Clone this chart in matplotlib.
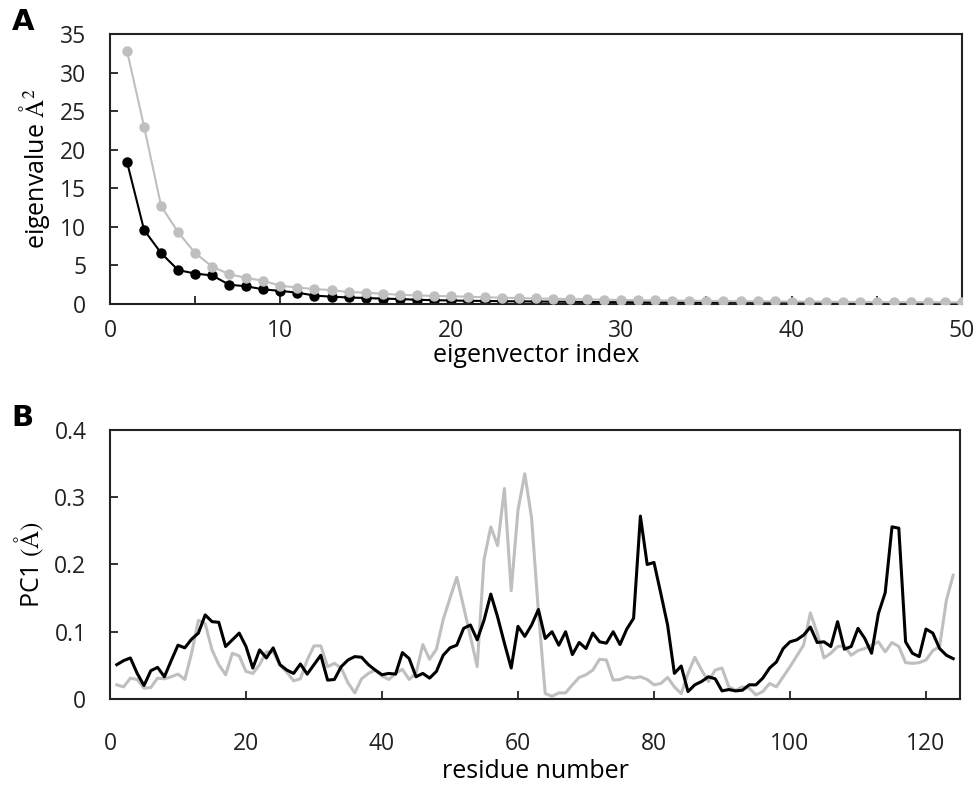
import numpy as np
import matplotlib
matplotlib.use("Agg")
import matplotlib.pyplot as plt
from matplotlib.ticker import MultipleLocator

plt.rcParams['font.family'] = ['Open Sans', 'DejaVu Sans']
plt.rcParams['mathtext.fontset'] = 'stix'

# ---------------- Panel A data ----------------
eig_index = list(range(1, 51))
eig_black = [18.4, 9.6, 6.6, 4.4, 3.95, 3.7, 2.5, 2.3, 1.9, 1.7,
             1.47, 1.1, 0.95, 0.85, 0.78, 0.7, 0.65, 0.55, 0.5, 0.46,
             0.42, 0.4, 0.37, 0.35, 0.33, 0.31, 0.29, 0.27, 0.25, 0.24,
             0.22, 0.21, 0.2, 0.19, 0.18, 0.17, 0.16, 0.15, 0.14, 0.13,
             0.12, 0.11, 0.1, 0.1, 0.09, 0.08, 0.08, 0.07, 0.07, 0.06]
eig_gray = [32.8, 23.0, 12.7, 9.3, 6.6, 4.85, 3.85, 3.4, 3.0, 2.38,
            2.12, 1.95, 1.8, 1.56, 1.47, 1.34, 1.2, 1.12, 1.05, 1.0,
            0.95, 0.88, 0.82, 0.77, 0.72, 0.68, 0.64, 0.6, 0.56, 0.53,
            0.5, 0.47, 0.45, 0.43, 0.41, 0.39, 0.37, 0.35, 0.34, 0.32,
            0.31, 0.29, 0.28, 0.27, 0.26, 0.25, 0.24, 0.23, 0.22, 0.21]

# ---------------- Panel B data ----------------
residues = list(range(1, 125))
pc1_black = [0.051, 0.057, 0.061, 0.038, 0.020, 0.042, 0.047, 0.033, 0.057, 0.080,
             0.076, 0.089, 0.098, 0.125, 0.115, 0.114, 0.078, 0.088, 0.098, 0.078,
             0.046, 0.073, 0.061, 0.076, 0.051, 0.043, 0.038, 0.052, 0.037, 0.051,
             0.065, 0.028, 0.029, 0.048, 0.058, 0.063, 0.062, 0.051, 0.043, 0.036,
             0.038, 0.037, 0.069, 0.060, 0.033, 0.038, 0.031, 0.041, 0.065, 0.076,
             0.080, 0.105, 0.110, 0.088, 0.117, 0.156, 0.122, 0.083, 0.046, 0.108,
             0.093, 0.110, 0.133, 0.090, 0.100, 0.080, 0.100, 0.066, 0.084, 0.075,
             0.098, 0.085, 0.083, 0.100, 0.081, 0.104, 0.120, 0.272, 0.200, 0.203,
             0.157, 0.110, 0.038, 0.049, 0.011, 0.021, 0.026, 0.033, 0.030, 0.012,
             0.014, 0.012, 0.013, 0.021, 0.021, 0.031, 0.046, 0.055, 0.075, 0.085,
             0.088, 0.095, 0.107, 0.084, 0.085, 0.078, 0.115, 0.074, 0.078, 0.105,
             0.090, 0.068, 0.127, 0.158, 0.256, 0.254, 0.085, 0.068, 0.063, 0.104,
             0.098, 0.075, 0.065, 0.060]
pc1_gray = [0.021, 0.018, 0.031, 0.029, 0.016, 0.017, 0.031, 0.030, 0.033, 0.037,
            0.029, 0.068, 0.117, 0.112, 0.073, 0.051, 0.036, 0.068, 0.064, 0.041,
            0.038, 0.051, 0.070, 0.070, 0.050, 0.040, 0.027, 0.030, 0.058, 0.079,
            0.079, 0.048, 0.053, 0.046, 0.024, 0.009, 0.030, 0.038, 0.043, 0.034,
            0.029, 0.038, 0.044, 0.029, 0.038, 0.081, 0.059, 0.074, 0.118, 0.150,
            0.181, 0.137, 0.093, 0.048, 0.207, 0.256, 0.228, 0.313, 0.161, 0.281,
            0.335, 0.269, 0.130, 0.008, 0.004, 0.009, 0.009, 0.021, 0.032, 0.036,
            0.043, 0.059, 0.058, 0.028, 0.029, 0.033, 0.031, 0.033, 0.029, 0.021,
            0.023, 0.032, 0.018, 0.008, 0.038, 0.062, 0.043, 0.026, 0.043, 0.046,
            0.018, 0.013, 0.018, 0.016, 0.006, 0.011, 0.023, 0.018, 0.033, 0.048,
            0.064, 0.080, 0.128, 0.098, 0.061, 0.068, 0.078, 0.079, 0.065, 0.072,
            0.075, 0.080, 0.085, 0.070, 0.084, 0.078, 0.054, 0.053, 0.054, 0.058,
            0.072, 0.078, 0.147, 0.184]

BLACK = '#000000'
GRAY = '#bfbfbf'
FS = 16.5
LFS = 18

fig = plt.figure(figsize=(9.76, 7.85), dpi=100)

# Panel A
axA = fig.add_axes([0.1127, 0.6127, 0.8730, 0.3440])
axA.plot(eig_index, eig_black, color=BLACK, lw=1.5, marker='o', ms=6.5, zorder=2)
axA.plot(eig_index, eig_gray, color=GRAY, lw=1.5, marker='o', ms=6.5, zorder=3)
axA.set_xlim(0, 50)
axA.set_ylim(0, 35)
axA.xaxis.set_major_locator(MultipleLocator(10))
axA.xaxis.set_minor_locator(MultipleLocator(5))
axA.yaxis.set_major_locator(MultipleLocator(5))
axA.set_xlabel('eigenvector index', fontsize=LFS, labelpad=0)
axA.set_ylabel(r'eigenvalue $\mathrm{Å}^{2}$', fontsize=LFS, labelpad=6)

# Panel B
axB = fig.add_axes([0.1127, 0.1096, 0.8709, 0.3426])
axB.plot(residues, pc1_black, color=BLACK, lw=2.2, zorder=3)
axB.plot(residues, pc1_gray, color=GRAY, lw=2.2, zorder=2)
axB.set_xlim(0, 125)
axB.set_ylim(0, 0.4)
axB.xaxis.set_major_locator(MultipleLocator(20))
axB.set_yticks([0, 0.1, 0.2, 0.3, 0.4])
axB.set_yticklabels(['0', '0.1', '0.2', '0.3', '0.4'])
axB.set_xlabel('residue number', fontsize=LFS, labelpad=2)
axB.set_ylabel(r'PC1 $(\mathrm{Å})$', fontsize=LFS, labelpad=6)

for ax in (axA, axB):
    for s in ax.spines.values():
        s.set_linewidth(1.5)
        s.set_color('#222222')
    ax.tick_params(which='both', direction='in', length=6, width=1.3,
                   labelsize=FS, colors='#222222')
    ax.tick_params(axis='y', pad=17)
axA.tick_params(axis='x', which='both', pad=11)
axB.tick_params(axis='x', which='both', pad=24)

fig.text(0.012, 0.972, 'A', fontsize=21, fontweight='black',
         family='DejaVu Sans', va='center', ha='left')
fig.text(0.012, 0.468, 'B', fontsize=21, fontweight='black',
         family='DejaVu Sans', va='center', ha='left')

fig.savefig('out.png', dpi=100)
